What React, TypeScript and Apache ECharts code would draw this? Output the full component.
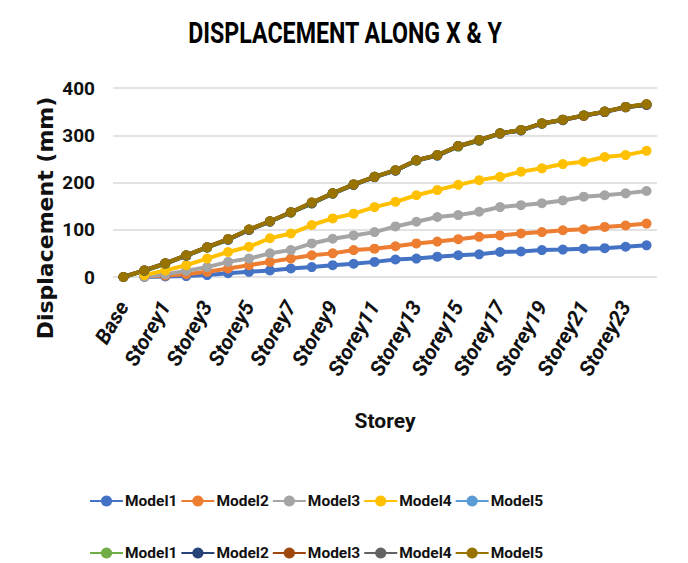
import React, { useEffect, useRef } from "react";
import * as echarts from "echarts";

const categories = [
  "Base", "Plinth", "Storey1", "Storey2", "Storey3", "Storey4", "Storey5", "Storey6", "Storey7",
  "Storey8", "Storey9", "Storey10", "Storey11", "Storey12", "Storey13", "Storey14", "Storey15",
  "Storey16", "Storey17", "Storey18", "Storey19", "Storey20", "Storey21", "Storey22", "Storey23", "Storey24",
];

// Displacement along X
const model1X = [null, 0, 1, 2, 4, 8, 11, 14, 18, 21, 25, 28, 32, 37, 39, 43, 46, 48, 53, 54, 57, 58, 60, 61, 64, 67];
const model2X = [null, 1, 3, 6, 11, 18, 25, 32, 39, 46, 50, 57, 60, 65, 71, 75, 80, 85, 88, 92, 95, 99, 101, 106, 109, 113];
const model3X = [null, 1, 6, 13, 21, 32, 39, 50, 57, 71, 81, 88, 95, 107, 117, 127, 131, 138, 148, 152, 156, 162, 170, 173, 177, 182];
const model4X = [null, 4, 14, 25, 39, 53, 64, 82, 92, 110, 124, 134, 148, 159, 173, 184, 195, 205, 212, 223, 230, 239, 244, 254, 258, 267];
const model5X = [null, 13, 28, 45, 62, 79, 99, 117, 136, 156, 176, 195, 211, 225, 246, 257, 276, 289, 303, 310, 324, 332, 341, 349, 359, 364];

// Displacement along Y
const model1Y = [0, 13, 28, 45, 62, 79, 100, 118, 136, 155, 177, 196, 212, 226, 246, 258, 276, 288, 304, 311, 325, 333, 342, 350, 360, 365];
const model2Y = [0, 14, 29, 45, 63, 79, 100, 117, 137, 156, 177, 195, 212, 225, 247, 257, 277, 289, 304, 310, 325, 332, 342, 349, 360, 364];
const model3Y = [0, 14, 29, 46, 63, 80, 100, 118, 137, 157, 177, 196, 212, 226, 247, 258, 277, 290, 304, 311, 325, 333, 341, 350, 359, 365];
const model4Y = [0, 14, 29, 46, 63, 80, 100, 118, 137, 157, 177, 196, 212, 226, 247, 258, 277, 290, 304, 311, 325, 333, 342, 350, 360, 365];
const model5Y = [0, 14, 29, 46, 63, 80, 101, 118, 137, 158, 177, 196, 212, 226, 247, 258, 277, 290, 304, 311, 325, 333, 342, 350, 360, 366];

const yTicks = [0, 100, 200, 300, 400];

const seriesNamesX = ["Model1", "Model2", "Model3", "Model4", "Model5"];
const seriesNamesY = ["Model1 ", "Model2 ", "Model3 ", "Model4 ", "Model5 "];
const colorsX = ["#4472C4", "#ED7D31", "#A5A5A5", "#FFC000", "#5B9BD5"];
const colorsY = ["#70AD47", "#264478", "#9E480E", "#636363", "#997300"];

const FONT = 'Roboto, "Liberation Sans", sans-serif';

export default function App() {
  const ref = useRef<HTMLDivElement>(null);

  useEffect(() => {
    if (!ref.current) return;
    const chart = echarts.init(ref.current, undefined, { renderer: "svg" });
    const dataX = [model1X, model2X, model3X, model4X, model5X];
    const dataY = [model1Y, model2Y, model3Y, model4Y, model5Y];

    const mk = (name: string, color: string, data: (number | null)[]) => ({
      name,
      type: "line",
      data,
      color,
      symbol: "circle",
      symbolSize: 10,
      showSymbol: true,
      lineStyle: { width: 4, color },
      itemStyle: { color },
      connectNulls: false,
    });

    const series = [
      ...seriesNamesX.map((n, i) => mk(n, colorsX[i], dataX[i])),
      ...seriesNamesY.map((n, i) => mk(n, colorsY[i], dataY[i])),
    ];

    const legendCommon = {
      left: 84,
      orient: "horizontal",
      itemWidth: 33,
      itemHeight: 14,
      itemGap: 3,
      formatter: (n: string) => n.trim(),
      textStyle: { fontFamily: FONT, fontSize: 15.5, fontWeight: "bold", color: "#111", padding: [0, 0, 0, -3] },
    };

    chart.setOption({
      animation: false,
      backgroundColor: "#ffffff",
      legend: [
        { ...legendCommon, top: 488, data: seriesNamesX },
        { ...legendCommon, top: 540, data: seriesNamesY },
      ],
      grid: { left: 113, right: 31, top: 88, bottom: 286, containLabel: false },
      xAxis: {
        type: "category",
        data: categories,
        boundaryGap: true,
        name: "Storey",
        nameLocation: "middle",
        nameGap: 133,
        nameTextStyle: { fontFamily: FONT, fontSize: 21, fontWeight: "bold", color: "#111" },
        axisLine: { show: false },
        axisTick: { show: false },
        axisLabel: {
          interval: 1,
          rotate: 60,
          margin: 26,
          fontFamily: FONT,
          fontSize: 21,
          fontWeight: "bold",
          fontStyle: "italic",
          color: "#111",
        },
      },
      yAxis: {
        type: "value",
        min: yTicks[0],
        max: yTicks[yTicks.length - 1],
        interval: 100,
        axisLine: { show: false },
        axisTick: { show: false },
        splitLine: { lineStyle: { color: "#d9d9d9", width: 1.5 } },
        axisLabel: { margin: 18, fontFamily: FONT, fontSize: 19, fontWeight: "bold", color: "#111" },
      },
      graphic: [
        {
          type: "text",
          x: 345,
          y: 33,
          scaleX: 0.8,
          style: {
            text: "DISPLACEMENT ALONG X & Y",
            fontFamily: FONT,
            fontSize: 29,
            fontWeight: "bold",
            fill: "#000",
            textAlign: "center",
            textVerticalAlign: "middle",
          },
        },
        {
          type: "text",
          x: 45,
          y: 218,
          rotation: Math.PI / 2,
          style: {
            text: "Displacement (mm)",
            fontFamily: '"DejaVu Sans", sans-serif',
            fontSize: 22,
            fontWeight: "bold",
            fill: "#111",
            textAlign: "center",
            textVerticalAlign: "middle",
          },
        },
      ],
      series,
    });

    return () => chart.dispose();
  }, []);

  return (
    <div
      ref={ref}
      style={{ position: "fixed", left: 0, top: 0, width: 688, height: 563, background: "#fff" }}
    />
  );
}
